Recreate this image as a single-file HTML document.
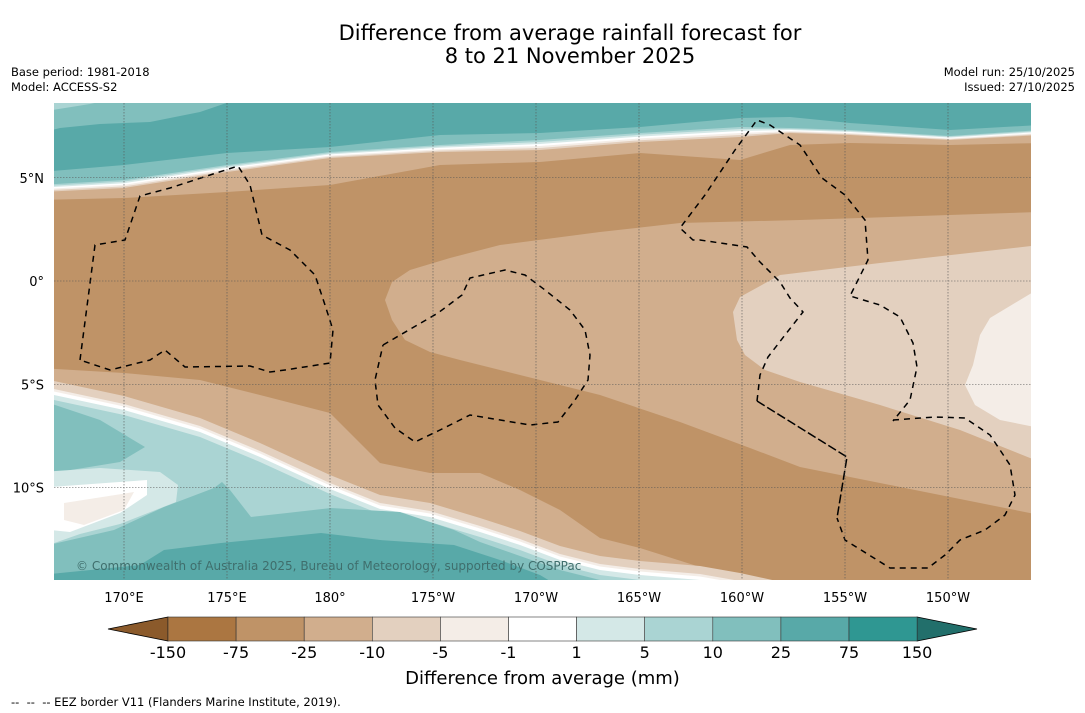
<!DOCTYPE html>
<html><head><meta charset="utf-8">
<style>
html,body{margin:0;padding:0;background:#fff;}
body{width:1085px;height:713px;position:relative;overflow:hidden;font-family:"Liberation Sans","DejaVu Sans",sans-serif;}
.t{position:absolute;white-space:nowrap;color:#000;}
</style></head>
<body>
<div class="t" style="left:0;width:1140px;text-align:center;top:22px;font-size:21px;line-height:23px;font-family:'DejaVu Sans',sans-serif;">Difference from average rainfall forecast for<br>8 to 21 November 2025</div>
<div class="t" style="left:11px;top:65px;font-size:11.5px;line-height:15px;font-family:'DejaVu Sans',sans-serif;">Base period: 1981-2018<br>Model: ACCESS-S2</div>
<div class="t" style="right:10px;top:65px;font-size:11.5px;line-height:15px;text-align:right;font-family:'DejaVu Sans',sans-serif;">Model run: 25/10/2025<br>Issued: 27/10/2025</div>
<svg id="map" width="1085" height="713" style="position:absolute;left:0;top:0" xmlns="http://www.w3.org/2000/svg"></svg>
<div class="t" style="left:0;width:1085px;text-align:center;top:668px;font-size:18px;font-family:'DejaVu Sans',sans-serif;">Difference from average (mm)</div>
<div class="t" style="left:11px;top:695px;font-size:11.5px;font-family:'DejaVu Sans',sans-serif;">--&nbsp; --&nbsp; -- EEZ border V11 (Flanders Marine Institute, 2019).</div>
<script>
const levelLabels = ["-150","-75","-25","-10","-5","-1","1","5","10","25","75","150"];
const levelColors = ["#ab7641","#bf9367","#d1ae8d","#e3d0bf","#f4ede7","#ffffff","#d4e8e7","#aad4d3","#81bfbd","#58a9a8","#2f9792"];
const underColor = "#8b5a2b", overColor = "#226f6b";
const lonTicks = ["170°E","175°E","180°","175°W","170°W","165°W","160°W","155°W","150°W"];
const latTicks = ["5°N","0°","5°S","10°S"];
const lonVals = [170,175,180,185,190,195,200,205,210];
const latVals = [5,0,-5,-10];

const NS="http://www.w3.org/2000/svg";
const svg=document.getElementById('map');
const X0=54,X1=1031,Y0=103,Y1=580;
const lonX=l=>124+(l-170)*20.6;
const latY=a=>281-a*20.65;
function el(tag,attrs,parent){const e=document.createElementNS(NS,tag);for(const k in attrs)e.setAttribute(k,attrs[k]);(parent||svg).appendChild(e);return e;}
function P(pts){return pts.map((p,i)=>(i?'L':'M')+p[0]+','+p[1]).join(' ');}
const C=levelColors;
const defs=el('defs',{});
const cp=el('clipPath',{id:'mc'},defs);el('rect',{x:X0,y:Y0,width:X1-X0,height:Y1-Y0},cp);
const g=el('g',{'clip-path':'url(#mc)'});


function fill(pts,c,name){const e=el('path',{d:P(pts)+'Z',fill:c},g);return e;}
fill([[X0,Y0],[X1,Y0],[X1,Y1],[X0,Y1]],C[1],'base-fill');
fill([[385,300],[392,282],[410,270],[450,258],[500,245],[600,232],[680,223],[800,220],[1040,212],[1040,515],[900,487],[800,467],[750,448],[680,422],[600,395],[520,375],[460,360],[430,352],[405,340],[392,320]],C[2],'central-tan');
fill([[1040,245],[880,263],[780,275],[740,297],[733,312],[737,340],[745,355],[765,370],[800,382],[880,405],[960,430],[1040,462]],C[3],'central-light');
fill([[1040,288],[990,318],[980,335],[973,365],[965,385],[975,405],[1000,420],[1040,428]],C[4],'central-lightest');
const tx=[40,124,227,330,440,540,640,740,790,850,950,1040];
const brownTop=[200,198,192,185,165,162,153,160,145,143,145,143];
const tanTop=[192,188,172,158,152,150,142,137,133,135,140,135];
const bandTop=[185,180,165,152,145,140,133,127,128,130,136,130];
const tealBot=[172,165,153,147,135,133,127,118,117,123,130,125];
function above(ys,c,n){fill([[tx[0],0]].concat(tx.map((x,i)=>[x,ys[i]])).concat([[tx[tx.length-1],0]]),c,n);}
above(brownTop,C[2],'top-tan');
const fr=[1,0.8,0.6,0.4,0.2];
[3,4,5,6,7].forEach((ci,k)=>above(tanTop.map((t,i)=>bandTop[i]+(t-bandTop[i])*fr[k]),C[ci],'top-band-'+ci));
above(bandTop,C[8],'top-teal-light');
above(tealBot,C[9],'top-teal');
fill([[40,95],[250,95],[200,112],[150,122],[100,124],[60,128],[40,133]],C[8],'topleft-teal-light');
fill([[40,95],[130,95],[90,104],[40,112]],C[7],'topleft-corner');
const bx=[40,124,200,260,330,380,430,480,520,560,600,640,700,740,800];
const brownBot=[368,373,380,395,413,463,473,473,490,510,538,548,567,580,595];
const whiteLn=[390,408,430,455,487,507,515,530,543,558,568,573,578,585,598];
function below(ys,c,n){fill([[bx[0],600]].concat(bx.map((x,i)=>[x,ys[i]])).concat([[bx[bx.length-1],600]]),c,n);}
below(brownBot,C[2],'bottom-tan');
below(whiteLn.map(v=>v-12),C[3],'bottom-band-3');
below(whiteLn.map(v=>v-4),C[4],'bottom-band-4');
below(whiteLn.map(v=>v-1.5),C[5],'bottom-band-5');
below(whiteLn.map(v=>v+2),C[6],'bottom-band-6');
below(whiteLn.map(v=>v+7),C[7],'bottom-band-7');
fill([[40,547],[114,530],[164,507],[214,488],[222,482],[230,490],[251,517],[287,513],[331,508],[400,512],[454,530],[480,542],[520,556],[560,570],[600,580],[640,590],[640,600],[40,600]],C[8],'bottom-teal-light');
fill([[40,400],[100,420],[145,447],[120,462],[40,475]],C[8],'left-teal-blob');
fill([[40,472],[100,468],[160,472],[178,485],[176,502],[120,524],[80,534],[40,548]],C[6],'left-pale-blob');
fill([[50,487],[147,480],[147,495],[120,513],[70,532],[50,530]],C[5],'left-white-blob');
fill([[64,503],[134,492],[124,510],[84,525],[64,520]],C[4],'left-blob-core');
fill([[40,575],[140,565],[164,550],[221,543],[321,533],[380,540],[454,545],[500,560],[540,575],[565,590],[40,590]],C[9],'bottom-teal');
lonVals.forEach(l=>{const e=el('line',{x1:lonX(l),x2:lonX(l),y1:Y0,y2:Y1,stroke:'#555','stroke-width':0.6,'stroke-dasharray':'1.5,1.5'});});
latVals.forEach(a=>{const e=el('line',{x1:X0,x2:X1,y1:latY(a),y2:latY(a),stroke:'#555','stroke-width':0.6,'stroke-dasharray':'1.5,1.5'});});
const eez=[
[[80,360],[95,245],[125,240],[140,196],[170,188],[210,175],[238,166],[250,185],[262,235],[290,250],[315,275],[325,305],[333,330],[330,363],[285,370],[270,372],[250,366],[185,367],[165,350],[150,360],[110,370],[80,360]],
[[383,345],[438,313],[462,295],[470,278],[505,270],[525,275],[545,290],[570,310],[585,330],[590,355],[588,380],[575,400],[558,422],[530,425],[470,415],[440,430],[415,442],[395,428],[378,405],[375,380],[383,345]],
[[757,401],[760,375],[768,357],[785,335],[803,312],[790,298],[780,282],[760,262],[747,247],[700,240],[693,240],[680,228],[705,195],[735,150],[757,120],[770,125],[800,145],[822,178],[845,195],[865,220],[868,260],[850,296],[880,305],[900,317],[913,343],[917,367],[910,400],[893,421]],
[[893,420],[935,417],[965,418],[990,435],[1010,465],[1015,495],[1005,515],[985,530],[960,540],[945,555],[928,568],[890,568],[845,540],[837,518]],
];
eez.forEach(p=>{const e=el('path',{d:P(p),fill:'none',stroke:'#000','stroke-width':1.5,'stroke-dasharray':'6,5'},g);});
const sol=el('path',{d:P([[757,401],[847,457],[837,518]]),fill:'none',stroke:'#000','stroke-width':1.5,'stroke-dasharray':'9,3'},g);


const cr=el('text',{x:76,y:570,'font-size':12,fill:'#3f6e6c','font-family':'DejaVu Sans, sans-serif'});
cr.textContent='© Commonwealth of Australia 2025, Bureau of Meteorology, supported by COSPPac';


lonTicks.forEach((t,i)=>{const e=el('text',{x:lonX(lonVals[i]),y:602,'font-size':13,'text-anchor':'middle','font-family':'DejaVu Sans, sans-serif'});e.textContent=t;});
latTicks.forEach((t,i)=>{const e=el('text',{x:44,y:latY(latVals[i])+5,'font-size':13,'text-anchor':'end','font-family':'DejaVu Sans, sans-serif'});e.textContent=t;});
const cb0=168,cbw=68.1,cy=617,ch=24;
const lt=el('path',{d:`M${cb0},${cy}L108,${cy+ch/2}L${cb0},${cy+ch}Z`,fill:underColor,stroke:'#000','stroke-width':0.8});


const ex=cb0+cbw*levelColors.length;
const rt=el('path',{d:`M${ex},${cy}L977,${cy+ch/2}L${ex},${cy+ch}Z`,fill:overColor,stroke:'#000','stroke-width':0.8});


levelColors.forEach((c,i)=>{const e=el('rect',{x:cb0+i*cbw,y:cy,width:cbw,height:ch,fill:c,stroke:'#333','stroke-width':0.6});});
levelLabels.forEach((t,i)=>{const e=el('text',{x:cb0+i*cbw,y:658,'font-size':16,'text-anchor':'middle','font-family':'DejaVu Sans, sans-serif'});e.textContent=t;});
</script>
</body></html>
